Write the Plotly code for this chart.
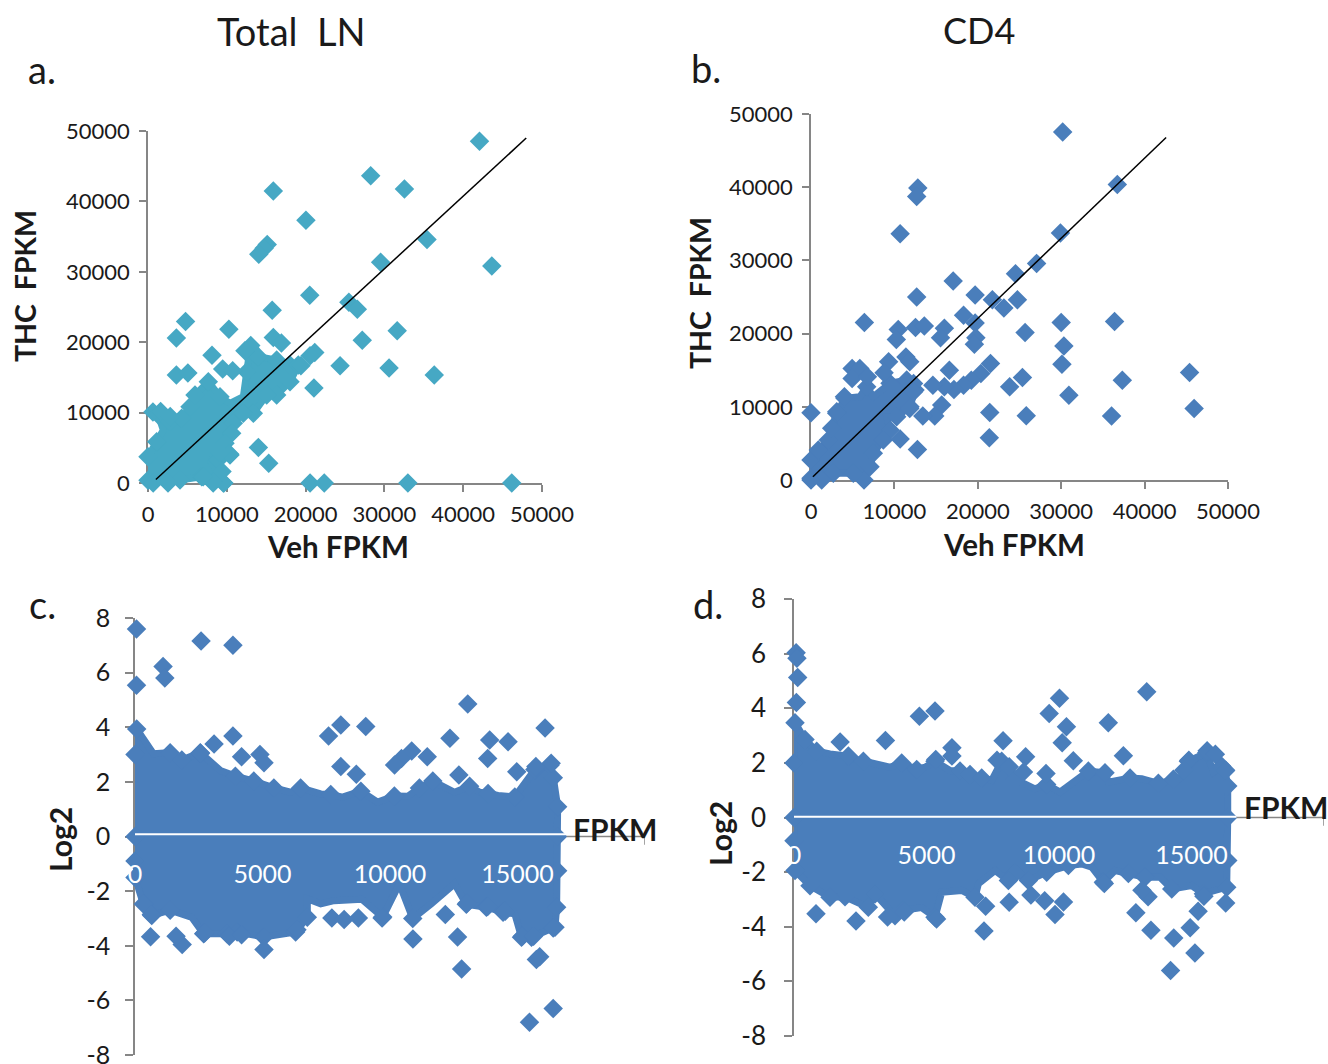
import plotly.graph_objects as go

W, H = 1328, 1064
FONT = "Lato"
TEAL = "#46a8c4"
BLUE = "#4a7ebb"
GRAY = "#868686"
TEXT = "#1a1a1a"

# Panel a: Total LN, Veh vs THC
a_x = [42070,28260,32540,15900,20040,15130,14740,14060,35410,29520,43630,20530,25490,26560,15760,4770,3600,10260,31620,27190,15900,16930,13040,12300,8120,21160,20570,19400,24370,30590,36330,3600,5060,9480,10750,21060,14010,15320,20570,22370,32980,46160,9630,8270,630,1600,2820,10360,9140,9390,7000]
a_y = [48530,43660,41770,41490,37320,33870,33350,32500,34580,31360,30840,26680,25690,24690,24550,22940,20580,21850,21620,20290,20670,19870,19540,18780,18160,18540,18070,16650,16650,16320,15330,15330,15610,16180,15940,13480,5060,2790,0,0,0,0,0,150,10080,10170,9460,4120,4300,1650,900]
a_blob_x = [0,0,1100,1946,1311,2790,4272,5330,5964,7656,9137,10406,12098,12521,12944,14001,16328,18020,19077,18020,16328,15060,13367,12098,10829,10617,9771,10406,8925,7868,9560,8270,6811,4061,2538,660]
a_blob_y = [400,3740,5870,7526,9656,8709,9183,10839,12496,14389,12259,11313,12259,15809,19123,17939,17466,16756,16756,14389,12496,12496,9893,9893,8473,7053,5633,3976,3266,3266,0,0,899,426,0,0]
a_blob_peak = [1,1,1,0,1,1,1,1,1,1,1,0,0,1,1,1,1,1,1,1,1,1,1,1,1,1,1,1,1,0,1,1,1,1,1,1]
a_line_x = [1000,48000]
a_line_y = [500,49000]

# Panel b: CD4, Veh vs THC
b_x = [30180,12810,12670,36730,10690,29910,27050,24520,17050,12670,19680,21750,23130,24750,18290,6400,12530,13590,10460,10230,15990,15530,19680,19770,19590,30000,36400,25670,30320,30090,45390,37330,30920,45940,36040,25810,21430,21380,23820,25350,21520,20370,19220,18290,17140,15990,16590,14610,15670,14840,13410,11840,12760,10690,0,11380,11840,9310,8760,12300,12300,9770,4930,5850,4930,6770,4010,3090]
b_y = [47550,39900,38730,40360,33640,33730,29590,28180,27180,25000,25270,24640,23500,24640,22500,21500,20820,21050,20550,19180,20730,19450,21450,19450,18550,21500,21640,20140,18320,15820,14680,13640,11590,9770,8730,8770,9230,5770,12730,14000,15910,14550,13640,12950,12360,12730,15000,12950,10230,8730,8730,9770,4180,5590,9180,16820,16140,16140,14640,13180,12050,12730,15230,15230,13860,14090,11360,9320]
b_blob_x = [0,0,879,2078,2478,3078,4077,5875,6675,7473,9472,11471,12470,11870,10272,9073,9472,8672,7473,7074,6355,5075,2677,1279,0]
b_blob_y = [228,2732,4098,5464,7058,9107,11156,11383,12749,11383,13205,13660,12294,10017,8651,8651,6830,5464,3643,1821,0,911,911,0,0]
b_blob_peak = [1,1,1,1,1,1,1,0,1,0,1,1,1,1,1,0,1,1,1,1,1,1,1,1,1]
b_line_x = [230,42580]
b_line_y = [450,46800]

# Panel c: Total LN, log2 ratio
c_x = [60,60,1100,1170,2590,3840,13050,16080,8070,9050,7590,3840,3100,12350,13910,14630,13830,11460,10850,10450,10180,4180,4900,5060,2570,14970,12700,8070,8680,15720,16320,15470,16400,15740,15870,12810,5060,1850,610,1610,10900,12650,15190,15630,16400,12170,9690,13830,14520,13020,6350,2730,3700,4180,640,7720,8200,8760]
c_y = [7.6,5.54,6.22,5.8,7.16,7.0,4.85,3.97,4.08,4.03,3.68,3.68,3.39,3.6,3.53,3.47,2.86,2.92,3.13,2.86,2.62,2.92,3.0,2.7,3.05,2.37,2.25,2.56,2.28,2.56,2.68,-6.8,-6.3,-4.5,-4.4,-4.85,-4.14,-3.95,-3.67,-3.65,-3.75,-3.68,-3.65,-3.65,-3.35,-2.86,-2.98,-2.56,-2.74,-2.44,-3.41,-3.53,-3.65,-3.6,-2.86,-2.98,-3.04,-2.98]
c_blob_x = [0,66,721,1378,1837,2559,3346,3937,4660,5054,5446,6100,6496,7283,7677,8136,8858,9515,10171,10696,11155,11680,12532,13123,13517,13845,14238,14894,15157,15681,16272,16405,16574,16574,16574,16535,16470,15550,15157,14894,14435,13780,12992,12532,11620,10893,10368,9715,8900,7808,7283,6758,6758,6300,5054,4004,3610,2690,2231,1378,656,328,0,0,0]
c_blob_y = [3.0,3.94,3.03,3.07,2.80,3.07,2.42,2.21,2.03,1.87,1.78,1.62,1.78,1.56,1.54,1.44,1.66,1.26,1.48,1.47,1.78,2.03,1.62,1.84,1.62,1.575,1.50,1.45,1.75,2.45,2.61,2.15,1.09,0,-1.25,-2.59,-3.32,-3.69,-3.69,-2.83,-2.77,-2.59,-2.48,-1.73,-2.46,-3.0,-1.73,-2.95,-2.3,-2.35,-2.47,-2.28,-2.96,-3.5,-3.68,-3.5,-3.56,-3.56,-2.96,-2.7,-2.89,-2.47,-1.5,-0.9,0]
c_blob_peak = [1,1,0,1,1,1,0,1,1,0,1,0,1,0,1,0,1,0,1,0,1,1,0,1,0,1,0,1,0,1,1,1,1,1,1,1,1,1,1,0,1,1,1,0,0,1,0,1,0,0,0,0,1,1,1,1,1,1,0,1,1,1,1,1,1]
c_rule_x = [0,16930]
c_rule_y = [0.08,0.08]
c_axis_x = [16930,20000]
c_axis_y = [0,0]
c_end_x = [20000,20000]
c_end_y = [0,-0.3]

# Panel d: CD4, log2 ratio
d_x = [80,110,140,90,13310,10020,9630,10280,10120,11860,5320,4730,3450,1740,7890,5960,5960,5350,8740,7660,8120,8660,9510,10540,12430,15590,15900,14900,16290,14710,14210,15130,14330,14950,13470,7170,15250,12900,9850,10170,9460,8120,7230,8940,16290,13360,13130,830,2340,3530,4160,5380,15470,11710]
d_y = [6.03,5.83,5.13,4.21,4.6,4.37,3.81,3.32,2.74,3.47,3.9,3.71,2.82,2.76,2.81,2.55,2.25,2.12,2.22,2.1,1.86,1.67,1.61,2.08,2.26,2.44,2.32,2.1,1.73,1.73,-5.6,-4.96,-4.41,-4.04,-4.13,-4.16,-3.43,-3.49,-3.55,-3.09,-3.05,-3.1,-3.25,-2.84,-3.13,-2.9,-2.66,-3.52,-3.79,-3.64,-3.46,-3.72,-2.88,-2.42]
d_blob_x = [0,38,415,856,1359,2051,2239,2617,3623,4063,4630,4944,5321,5887,6265,6642,7083,7460,7837,8340,9095,9536,10039,11108,11737,11863,12681,13121,13750,14316,14568,14882,15574,15826,16140,16266,16367,16367,16367,16329,15889,15449,15008,14254,13813,13247,12618,12115,11674,11234,10857,10353,9536,8844,8340,8089,7586,6957,6831,6328,5573,5321,4818,4126,3812,3057,2805,1925,1359,604,38,0,0]
d_blob_y = [2.0,3.47,2.86,2.43,2.33,2.25,2.15,2.06,1.84,2.0,1.76,1.84,2.06,1.72,1.70,1.57,1.45,1.36,2.06,1.4,1.05,1.21,0.93,1.70,1.64,1.29,1.45,1.42,1.25,1.4,1.42,2.06,2.37,1.66,1.88,1.70,1.15,0,-1.57,-2.55,-2.67,-2.79,-2.49,-2.62,-2.19,-2.19,-2.05,-1.94,-2.37,-1.82,-1.7,-1.76,-2.0,-2.31,-2.05,-2.31,-1.94,-2.43,-2.92,-2.67,-2.74,-3.65,-3.3,-3.4,-3.6,-2.8,-3.29,-2.9,-2.92,-2.5,-1.94,-0.85,0]
d_blob_peak = [1,1,1,1,0,1,0,1,0,1,1,0,1,0,1,1,1,0,1,1,0,1,0,1,1,0,1,0,1,1,0,1,1,0,1,1,1,1,1,1,0,1,0,1,0,1,1,0,1,0,0,1,1,1,1,1,0,0,1,0,0,1,0,1,1,1,1,1,1,1,1,1,1]
d_rule_x = [0,16704]
d_rule_y = [0.03,0.03]
d_axis_x = [16704,20000]
d_axis_y = [0,0]
d_end_x = [20000,20000]
d_end_y = [0,-0.3]

scatter_ticks = [0,10000,20000,30000,40000,50000]
ma_x_ticks = [0,5000,10000,15000]
ma_y_ticks = [-8,-6,-4,-2,0,2,4,6,8]
ma_y_labels = ["-8","-6","-4","-2","0","2","4","6","8"]

panels = [
    dict(s="", l=148, r=542, t=131, b=483),
    dict(s="2", l=811, r=1228, t=114, b=480),
    dict(s="3", l=135, r=645, t=618, b=1055, lab=10, fs=25),
    dict(s="4", l=794, r=1324, t=599, b=1036, lab=13, fs=26),
]

MSIZE = 15
BLOB_EDGE = 7
fig = go.Figure()

def pts(x, y, color, s):
    fig.add_trace(go.Scatter(x=x, y=y, mode="markers", cliponaxis=False, showlegend=False,
                             xaxis="x"+s, yaxis="y"+s,
                             marker=dict(symbol="diamond", size=MSIZE, color=color, line=dict(width=0)),
                             hoverinfo="skip"))

def blob(x, y, peak, color, s):
    fig.add_trace(go.Scatter(x=x, y=y, mode="lines", fill="toself", fillcolor=color,
                             cliponaxis=False, showlegend=False, xaxis="x"+s, yaxis="y"+s,
                             line=dict(color=color, width=BLOB_EDGE), hoverinfo="skip"))
    pts([v for v, f in zip(x, peak) if f], [v for v, f in zip(y, peak) if f], color, s)

def line(x, y, color, width, s):
    fig.add_trace(go.Scatter(x=x, y=y, mode="lines", cliponaxis=False, showlegend=False,
                             xaxis="x"+s, yaxis="y"+s, line=dict(color=color, width=width),
                             hoverinfo="skip"))

blob(a_blob_x, a_blob_y, a_blob_peak, TEAL, "")
pts(a_x, a_y, TEAL, "")
line(a_line_x, a_line_y, "black", 1.5, "")
blob(b_blob_x, b_blob_y, b_blob_peak, BLUE, "2")
pts(b_x, b_y, BLUE, "2")
line(b_line_x, b_line_y, "black", 1.5, "2")
blob(c_blob_x, c_blob_y, c_blob_peak, BLUE, "3")
pts(c_x, c_y, BLUE, "3")
line(c_rule_x, c_rule_y, "white", 2, "3")
line(c_axis_x, c_axis_y, GRAY, 1.5, "3")
line(c_end_x, c_end_y, GRAY, 1.5, "3")
blob(d_blob_x, d_blob_y, d_blob_peak, BLUE, "4")
pts(d_x, d_y, BLUE, "4")
line(d_rule_x, d_rule_y, "white", 2, "4")
line(d_axis_x, d_axis_y, GRAY, 1.5, "4")
line(d_end_x, d_end_y, GRAY, 1.5, "4")

layout = dict(width=W, height=H, margin=dict(l=0, r=0, t=0, b=0, autoexpand=False),
              paper_bgcolor="white", plot_bgcolor="rgba(0,0,0,0)", showlegend=False,
              font=dict(family=FONT, color=TEXT))

for i, p in enumerate(panels):
    s = p["s"]
    dom_x = [p["l"]/W, p["r"]/W]
    dom_y = [1-p["b"]/H, 1-p["t"]/H]
    if i < 2:
        layout["xaxis"+s] = dict(domain=dom_x, range=[0, 50000], tickvals=scatter_ticks, ticks="outside",
                                 ticklen=7, tickcolor=GRAY, tickwidth=1.5, showline=True, linecolor=GRAY,
                                 linewidth=1.5, showgrid=False, zeroline=False, anchor="y"+s,
                                 tickfont=dict(size=22, family=FONT, color=TEXT), ticklabelstandoff=4,
                                 layer="below traces", tickformat="d")
        layout["yaxis"+s] = dict(domain=dom_y, range=[0, 50000], tickvals=scatter_ticks, ticks="outside",
                                 ticklen=7, tickcolor=GRAY, tickwidth=1.5, showline=True, linecolor=GRAY,
                                 linewidth=1.5, showgrid=False, zeroline=False, anchor="x"+s,
                                 tickfont=dict(size=22, family=FONT, color=TEXT), ticklabelstandoff=5,
                                 layer="below traces", tickformat="d")
    else:
        zero_pos = (dom_y[0] + dom_y[1]) / 2
        layout["xaxis"+s] = dict(domain=dom_x, range=[0, 20000], tickvals=ma_x_ticks, ticks="",
                                 showline=False, showgrid=False, zeroline=False, anchor="free",
                                 position=zero_pos, tickfont=dict(size=25, family=FONT, color="white"),
                                 ticklabelstandoff=20, layer="above traces", tickformat="d")
        layout["yaxis"+s] = dict(domain=dom_y, range=[-8, 8], tickvals=ma_y_ticks, ticktext=ma_y_labels,
                                 ticks="outside", ticklen=8, tickcolor=GRAY, tickwidth=1.5, showline=True,
                                 linecolor=GRAY, linewidth=1.5, showgrid=False, zeroline=False,
                                 anchor="x"+s, tickfont=dict(size=p["fs"], family=FONT, color=TEXT),
                                 ticklabelstandoff=p["lab"], layer="below traces", ticklabeloverflow="allow")

texts = [
    ("Total  LN", 291, 31, 38, False, 0),
    ("CD4", 979, 30, 36, False, 0),
    ("a.", 42, 69, 38, False, 0),
    ("b.", 706, 68, 38, False, 0),
    ("c.", 42, 604, 38, False, 0),
    ("d.", 708, 604, 38, False, 0),
    ("THC  FPKM", 25, 286, 28.5, True, -90),
    ("THC  FPKM", 700, 293, 28.5, True, -90),
    ("Veh FPKM", 338, 546, 29.5, True, 0),
    ("Veh FPKM", 1014, 544, 29.5, True, 0),
    ("Log2", 60, 840, 30, True, -90),
    ("Log2", 720, 834, 30, True, -90),
    ("FPKM", 615, 829, 30, True, 0),
    ("FPKM", 1286, 807, 30, True, 0),
]
anns = []
for t, x, y, size, bold, rot in texts:
    anns.append(dict(text=f"<b>{t}</b>" if bold else t, x=x/W, y=1-y/H, xref="paper", yref="paper",
                     xanchor="center", yanchor="middle", showarrow=False, textangle=rot,
                     font=dict(size=size, family=FONT, color=TEXT)))
layout["annotations"] = anns
fig.update_layout(**layout)
fig.write_html("out.html", config={"displayModeBar": False},
               post_script="document.body.style.margin='0';document.body.style.overflow='hidden';")
